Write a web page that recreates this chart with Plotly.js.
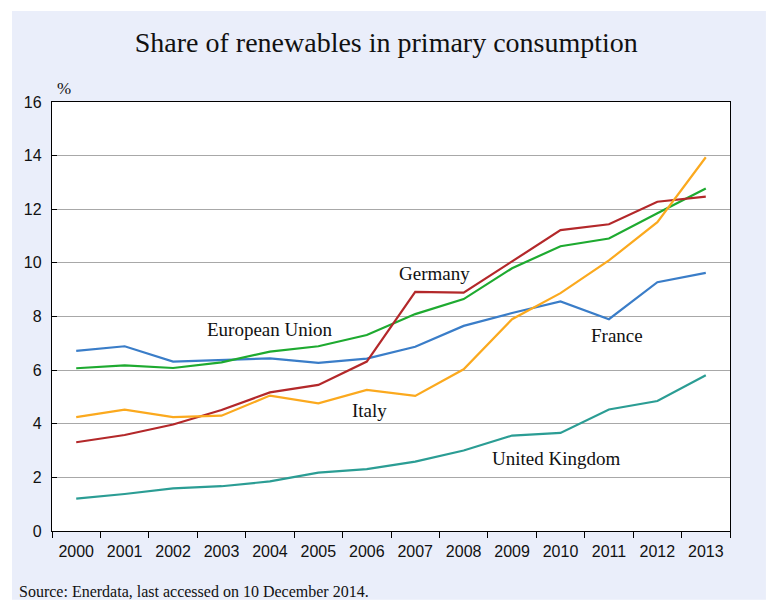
<!DOCTYPE html>
<html>
<head>
<meta charset="utf-8">
<script src="https://cdn.plot.ly/plotly-3.0.1.min.js"></script>
<style>html,body{margin:0;padding:0;background:#fff;}#chart{width:768px;height:601px;}</style>
</head>
<body>
<div id="chart"></div>
<script>
const years = ['2000','2001','2002','2003','2004','2005','2006','2007','2008','2009','2010','2011','2012','2013'];
const france = [6.72,6.89,6.32,6.38,6.44,6.27,6.43,6.87,7.65,8.13,8.56,7.90,9.28,9.63];
const eu = [6.07,6.18,6.08,6.29,6.69,6.89,7.31,8.09,8.65,9.80,10.62,10.91,11.85,12.77];
const germany = [3.31,3.58,3.97,4.51,5.17,5.45,6.32,8.92,8.89,10.07,11.22,11.44,12.28,12.47];
const italy = [4.25,4.53,4.25,4.30,5.05,4.76,5.26,5.04,6.03,7.90,8.87,10.09,11.52,13.94];
const uk = [1.21,1.38,1.59,1.67,1.85,2.18,2.31,2.59,3.00,3.56,3.66,4.53,4.85,5.81];

const seriesNames = ['France','European Union','Germany','Italy','United Kingdom'];
const seriesData = [france, eu, germany, italy, uk];
const seriesColors = ['#3A7DC8','#1EAA30','#B3282A','#FBA91E','#2B9D94'];

const traces = seriesData.map((vals, i) => ({
  type: 'scatter', mode: 'lines', name: seriesNames[i],
  x: years, y: vals,
  line: {color: seriesColors[i], width: 2.2},
  hoverinfo: 'x+y+name'
}));

const serif = 'Liberation Serif, Times New Roman, serif';
const sans = 'Liberation Sans, Arial, sans-serif';

const labels = [
  {text:'Germany', year:'2008', xshift:-29, y:9.6},
  {text:'European Union', year:'2004', xshift:0, y:7.5},
  {text:'France', year:'2011', xshift:8, y:7.3},
  {text:'Italy', year:'2006', xshift:3, y:4.5},
  {text:'United Kingdom', year:'2010', xshift:-5, y:2.7}
];

const annotations = labels.map(l => ({
  text: l.text, x: years.indexOf(l.year), y: l.y, xref: 'x', yref: 'y', xshift: l.xshift,
  showarrow: false, font: {family: serif, size: 19, color: '#111'}
}));
annotations.push({text:'%', xref:'paper', yref:'paper', x:0.005, y:1.0, yshift:2, xanchor:'left', yanchor:'bottom', showarrow:false, font:{family:serif,size:17,color:'#111'}});
annotations.push({text:'Source: Enerdata, last accessed on 10 December 2014.', xref:'paper', yref:'paper', x:-0.051, y:-0.142, yanchor:'middle', xanchor:'left', showarrow:false, font:{family:serif,size:16,color:'#111'}});

const layout = {
  width: 768, height: 601,
  margin: {l: 52, r: 38, t: 102, b: 70},
  paper_bgcolor: '#ffffff',
  plot_bgcolor: 'rgba(0,0,0,0)',
  showlegend: false,
  title: {text: 'Share of renewables in primary consumption', x: 0.503, xref: 'container', y: 0.93, yref: 'container', yanchor: 'middle',
          font: {family: serif, size: 28, color: '#111'}},
  xaxis: {
    type: 'category', range: [-0.5, 13.5], tickson: 'boundaries',
    ticks: 'outside', ticklen: 6, tickcolor: '#000', tickwidth: 1,
    showline: true, linecolor: '#000', linewidth: 1.2, mirror: true,
    showgrid: false, tickfont: {family: sans, size: 16, color: '#111'}, ticklabelstandoff: 6
  },
  yaxis: {
    range: [0, 16], dtick: 2, tick0: 0,
    ticks: 'inside', ticklen: 5, tickcolor: '#000',
    showline: true, linecolor: '#000', linewidth: 1.2, mirror: true,
    showgrid: true, gridcolor: '#A8A8A8', gridwidth: 1, zeroline: false,
    tickfont: {family: sans, size: 16, color: '#111'}, ticklabelstandoff: 6
  },
  shapes: [
    {type:'rect', xref:'paper', yref:'paper', x0:-0.059, x1:1.053, y0:-0.16, y1:1.212, fillcolor:'#EAEEFA', line:{width:0}, layer:'below'},
    {type:'rect', xref:'paper', yref:'paper', x0:0, x1:1, y0:0, y1:1, fillcolor:'#ffffff', line:{width:0}, layer:'below'}
  ],
  annotations: annotations
};

Plotly.newPlot('chart', traces, layout, {displayModeBar: false, staticPlot: true});
</script>
</body>
</html>
